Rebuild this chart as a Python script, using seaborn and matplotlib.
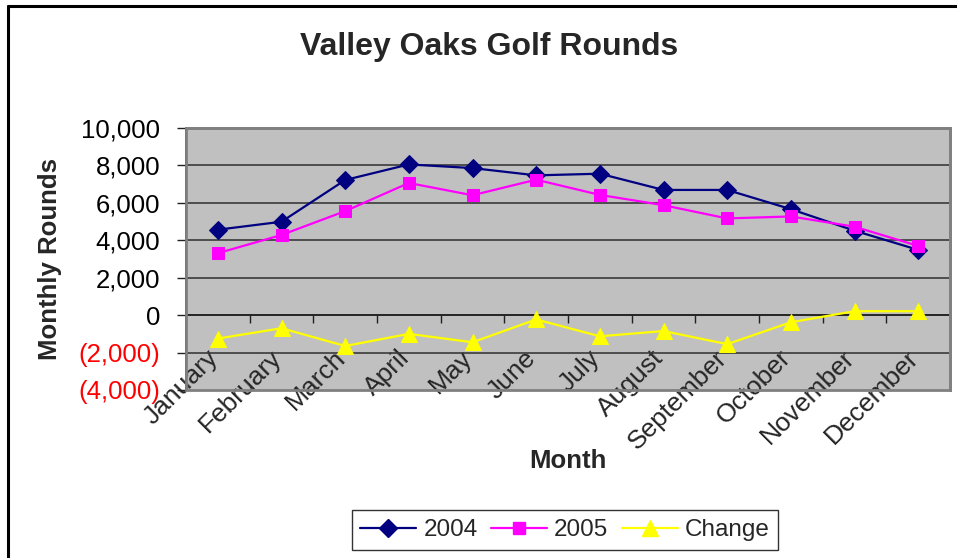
import matplotlib
matplotlib.use("Agg")
import matplotlib.pyplot as plt
import matplotlib.transforms as mtransforms
import seaborn as sns
import pandas as pd
from matplotlib.ticker import FuncFormatter, FixedLocator
from matplotlib.patches import Rectangle
from matplotlib.lines import Line2D

months = ["January", "February", "March", "April", "May", "June", "July",
          "August", "September", "October", "November", "December"]
rounds_2004 = [4566, 4991, 7221, 8053, 7858, 7469, 7558, 6690, 6690, 5664, 4513, 3487]
rounds_2005 = [3310, 4283, 5558, 7062, 6407, 7239, 6425, 5876, 5168, 5274, 4726, 3699]
change = [-1250, -700, -1650, -1000, -1450, -230, -1130, -850, -1550, -380, 210, 210]
yticks = [-4000, -2000, 0, 2000, 4000, 6000, 8000, 10000]

df = pd.DataFrame({"Month": months, "2004": rounds_2004, "2005": rounds_2005, "Change": change})

sns.set_style("white")
plt.rcParams["font.family"] = ["Liberation Sans", "DejaVu Sans"]

W, H = 957, 558
fig = plt.figure(figsize=(W / 100, H / 100), dpi=100)
ax = fig.add_axes([186 / W, 1 - 390 / H, (950 - 186) / W, (390 - 128) / H])
ax.set_facecolor("#C0C0C0")

series = [("2004", "#000080", "D", 9), ("2005", "#FF00FF", "s", 9), ("Change", "#FFFF00", "^", 12)]
for name, col, mk, ms in series:
    sns.lineplot(data=df, x="Month", y=name, ax=ax, color=col, marker=mk, markersize=ms,
                 markeredgecolor=col, linewidth=1.6, label=name, sort=False, zorder=5)

ax.set_ylim(-4000, 10000)
ax.set_xlim(-0.5, 11.5)
ax.yaxis.set_major_locator(FixedLocator(yticks))

def fmt(v, pos):
    v = int(round(v))
    return f"({abs(v):,})" if v < 0 else f"{v:,}"
ax.yaxis.set_major_formatter(FuncFormatter(fmt))

for y in yticks[1:-1]:
    ax.axhline(y, color="#3a3a3a", linewidth=1.2, zorder=1)

for s in ["top", "right"]:
    ax.spines[s].set_color("#808080")
    ax.spines[s].set_linewidth(2)
ax.spines["left"].set_color("#202020")
ax.spines["left"].set_linewidth(1.2)
ax.spines["bottom"].set_position(("data", 0))
ax.spines["bottom"].set_color("#202020")
ax.spines["bottom"].set_linewidth(1.2)
ax.spines["bottom"].set_zorder(2)
ax.add_patch(Rectangle((0, 0), 1, 1, transform=ax.transAxes, fill=False,
                       edgecolor="#808080", linewidth=2, zorder=3, clip_on=False))

ax.set_xticks(range(len(months)))
ax.set_xticklabels(months)
ax.set_xticks([i - 0.5 for i in range(len(months) + 1)], minor=True)
ax.tick_params(axis="x", which="major", length=0, pad=22, labelsize=19)
ax.tick_params(axis="x", which="minor", length=6, width=1, color="#202020", direction="out", bottom=True)
shift = mtransforms.ScaledTranslation(-12 / 100, 0, fig.dpi_scale_trans)
for lab in ax.get_xticklabels():
    lab.set_rotation(45)
    lab.set_ha("right")
    lab.set_va("top")
    lab.set_rotation_mode("anchor")
    lab.set_transform(lab.get_transform() + shift)

ax.tick_params(axis="y", which="major", length=6.5, width=1, color="#202020", direction="out",
               left=True, pad=12, labelsize=18.5)
for lab, v in zip(ax.get_yticklabels(), yticks):
    lab.set_color("red" if v < 0 else "black")

ax.set_xlabel("")
ax.set_ylabel("")
ax.legend_.remove()

fig.text(489 / W, 1 - 47 / H, "Valley Oaks Golf Rounds", ha="center", va="center",
         fontsize=23, fontweight="bold")
fig.text(568 / W, 1 - 461 / H, "Month", ha="center", va="center", fontsize=18.5, fontweight="bold")
fig.text(50 / W, 1 - 259 / H, "Monthly Rounds", ha="center", va="center", rotation=90,
         fontsize=18.5, fontweight="bold")

handles = [Line2D([], [], color=c, marker=m, markersize=ms, markeredgecolor=c, linewidth=1.6)
           for _, c, m, ms in series]
leg = fig.legend(handles, [s[0] for s in series], loc="center", ncol=3,
                 bbox_to_anchor=(565 / W, 1 - 530 / H), fontsize=17.5, frameon=True,
                 fancybox=False, handlelength=2.3, handletextpad=0.3, columnspacing=0.55,
                 borderpad=0.35, borderaxespad=0)
leg.get_frame().set_edgecolor("black")
leg.get_frame().set_linewidth(1)

fig.add_artist(Line2D([8 / W, 8 / W], [0, 1 - 6 / H], color="black", linewidth=2.2,
                      transform=fig.transFigure))
fig.add_artist(Line2D([8 / W, 1], [1 - 6 / H, 1 - 6 / H], color="black", linewidth=2.2,
                      transform=fig.transFigure))

fig.savefig("out.png", dpi=100)
